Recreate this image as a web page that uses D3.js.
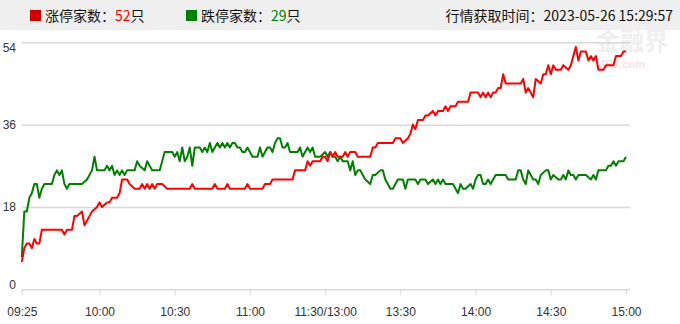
<!DOCTYPE html>
<html>
<head>
<meta charset="utf-8">
<script src="https://cdn.jsdelivr.net/npm/d3@7/dist/d3.min.js"></script>
<style>
  body { margin: 0; background: #fff; }
  svg { display: block; }
  .axis text { font: 12px "Liberation Sans", Arial, sans-serif; fill: #333; }
  .axis .domain { stroke: #d9d9d9; }
  .axis line { stroke: #d9d9d9; }
  .head { font: 14px "Noto Sans CJK SC", sans-serif; fill: #111; }
</style>
</head>
<body>
<div id="chart"></div>
<script>
// 涨停 (limit-up) count
var upTimes = ["09:25","09:30","09:31","09:32","09:33","09:34","09:35","09:36","09:37","09:45","09:46","09:47","09:49","09:50","09:51","09:53","09:54","09:55","09:56","09:57","09:59",
  "10:00","10:01","10:03","10:04","10:05","10:07","10:08","10:09","10:11","10:12","10:14","10:16","10:17","10:18","10:19","10:20","10:21","10:22","10:23","10:25","10:27","10:36","10:37","10:38","10:45","10:46","10:47","10:50","10:51","10:52","10:58","10:59",
  "11:00","11:05","11:06","11:08","11:09","11:17","11:18","11:22","11:23","11:24","11:25","11:28","11:29","11:30",
  "13:01","13:02","13:03","13:04","13:05","13:07","13:08","13:09","13:10","13:12","13:13","13:18","13:19","13:20","13:21","13:27","13:28","13:30","13:31","13:33","13:34","13:35","13:36","13:37","13:39","13:40","13:41","13:43","13:44","13:45","13:47","13:48","13:49","13:50","13:52","13:53","13:57","13:58",
  "14:01","14:02","14:03","14:04","14:05","14:06","14:07","14:08","14:09","14:10","14:11","14:12","14:18","14:19","14:20","14:21","14:22","14:23","14:24","14:26","14:27","14:28","14:29","14:30","14:31","14:32","14:34","14:35","14:37","14:38","14:40","14:41","14:42","14:44","14:45","14:46","14:47","14:48","14:49","14:51","14:52","14:55","14:56","14:58","14:59","15:00"];
var upValues = [6,9,10,10,9,11,10,10,13,13,12,13,13,16,16,17,14,15,16,17,18,
  19,18,19,19,20,20,21,24,24,23,22,22,23,22,23,22,23,22,23,23,22,22,23,22,22,23,22,22,23,22,22,23,
  22,22,23,23,24,24,26,26,28,27,28,28,29,29,
  28,30,29,30,29,29,30,29,30,30,29,29,31,31,32,32,33,33,32,33,34,36,35,37,37,38,38,39,38,39,39,40,39,40,40,41,41,43,
  43,42,43,42,43,42,43,43,44,44,47,45,45,46,43,44,43,42,46,45,47,47,49,47,49,48,48,49,48,49,53,50,52,52,50,51,50,51,48,48,49,49,51,51,52,52];

// 跌停 (limit-down) count
var downTimes = ["09:25","09:30","09:31","09:32","09:33","09:34","09:35","09:36","09:37","09:38","09:41","09:42","09:43","09:44","09:45","09:46","09:47","09:48","09:53","09:55","09:57","09:58","09:59",
  "10:02","10:03","10:04","10:05","10:06","10:07","10:08","10:09","10:10","10:11","10:14","10:15","10:16","10:18","10:19","10:20","10:21","10:24","10:25","10:26","10:28","10:29","10:30","10:31","10:32","10:33","10:34","10:35","10:36","10:37","10:38","10:40","10:41","10:42","10:43","10:44","10:45","10:46","10:47","10:48","10:49","10:50","10:51","10:52","10:53","10:54","10:55","10:56","10:57","10:58","10:59",
  "11:00","11:01","11:03","11:04","11:05","11:06","11:07","11:08","11:09","11:10","11:11","11:12","11:13","11:14","11:15","11:16","11:19","11:20","11:21","11:22","11:23","11:24","11:25","11:26","11:28","11:30",
  "13:01","13:02","13:03","13:04","13:05","13:06","13:07","13:09","13:10","13:11","13:12","13:13","13:14","13:15","13:16","13:18","13:19","13:20","13:22","13:23","13:24","13:25","13:26","13:27","13:29","13:31","13:32","13:33","13:35","13:36","13:37","13:38","13:40","13:41","13:43","13:44","13:45","13:46","13:47","13:48","13:51","13:52","13:53","13:54","13:55","13:56","13:58","13:59",
  "14:00","14:01","14:02","14:03","14:04","14:05","14:06","14:07","14:08","14:12","14:13","14:16","14:17","14:18","14:19","14:20","14:21","14:23","14:24","14:25","14:26","14:28","14:29","14:30","14:31","14:33","14:34","14:35","14:36","14:37","14:38","14:39","14:40","14:41","14:44","14:46","14:47","14:48","14:49","14:51","14:52","14:53","14:54","14:55","14:56","14:57","14:59","15:00"];
var downValues = [7,17,17,20,21,23,23,20,22,23,23,25,26,25,26,23,22,23,23,24,26,29,26,
  26,27,26,27,25,26,25,26,25,26,26,28,27,26,28,27,26,26,28,30,30,30,29,30,28,31,28,29,31,27,31,31,30,31,30,32,30,31,32,31,32,31,32,31,32,32,31,31,30,30,31,
  30,29,29,31,29,30,31,31,30,32,33,33,31,31,32,30,30,31,29,30,31,30,31,29,29,30,
  29,30,29,29,28,29,28,28,26,28,25,26,26,25,24,23,25,25,26,26,24,23,22,22,24,24,22,24,24,24,23,24,24,23,24,23,24,23,24,23,23,22,21,23,22,22,23,22,
  24,25,25,23,23,24,23,24,25,25,24,24,26,26,24,23,26,24,24,23,25,26,26,24,25,24,24,25,24,26,25,25,24,25,25,24,25,24,26,26,26,27,27,28,27,28,28,29];

var tickTimes = ["09:25","10:00","10:30","11:00","11:30","13:30","14:00","14:30","15:00"];
var tickLabels = ["09:25","10:00","10:30","11:00","11:30/13:00","13:30","14:00","14:30","15:00"];
var yTicks = [0, 18, 36, 54];

var upTotal = 52, downTotal = 29;
var fetchTime = "2023-05-26 15:29:57";

var W = 680, H = 324;

// trading minute index: 09:25 -> 0, 09:30 -> 1, 11:30 == 13:00 -> 121, 15:00 -> 241
function minuteIndex(t) {
  var p = t.split(":"), m = +p[0] * 60 + +p[1];
  if (m < 570) return 0;
  if (m <= 690) return 1 + m - 570;
  return 121 + m - 780;
}

var x = d3.scaleLinear().domain([0, 241]).range([21.8, 626]);
var y = d3.scaleLinear().domain([0, 54]).range([289.3, 42.3]);

var svg = d3.select("#chart").append("svg")
  .attr("width", W).attr("height", H);

// header band
svg.append("rect").attr("x", 0).attr("y", 0).attr("width", W).attr("height", 30).attr("fill", "#efefef");

var legend = [
  {name: "涨停家数：", value: upTotal, box: "#d00000", num: "#ff0000", x: 30},
  {name: "跌停家数：", value: downTotal, box: "#008000", num: "#008000", x: 186}
];
legend.forEach(function(d) {
  svg.append("rect").attr("x", d.x).attr("y", 10).attr("width", 11).attr("height", 11).attr("fill", d.box);
  var t = svg.append("text").attr("class", "head").attr("x", d.x + 15).attr("y", 21);
  t.append("tspan").text(d.name);
  t.append("tspan").attr("fill", d.num).text(d.value);
  t.append("tspan").text("只");
});
svg.append("text").attr("class", "head").attr("x", 673).attr("y", 21)
  .attr("text-anchor", "end").text("行情获取时间：" + fetchTime);

// watermark
var wm = svg.append("g").attr("opacity", 0.55);
wm.append("text").attr("x", 632).attr("y", 50).attr("text-anchor", "middle")
  .style("font", "bold 24px 'Noto Sans CJK SC', sans-serif").attr("fill", "#e2e2e2").text("金融界");
wm.append("text").attr("x", 622).attr("y", 68).attr("text-anchor", "middle")
  .style("font", "bold 11px 'Liberation Sans', sans-serif").attr("fill", "#f2c8c8").text("JRJ.com");

// y grid + labels
var gy = svg.append("g").attr("class", "axis")
  .attr("transform", "translate(22,0)")
  .call(d3.axisLeft(y).tickValues(yTicks).tickSize(-608).tickPadding(6));
gy.select(".domain").remove();
gy.selectAll(".tick line").attr("stroke", "#dcdcdc").attr("stroke-width", 1.5);
gy.selectAll(".tick text")
  .attr("dy", function(d) { return d === 54 ? "0.75em" : d === 0 ? "-0.05em" : "0.32em"; });

// x axis
var gx = svg.append("g").attr("class", "axis")
  .attr("transform", "translate(0,289.3)")
  .call(d3.axisBottom(x)
    .tickValues(tickTimes.map(minuteIndex))
    .tickFormat(function(d, i) { return tickLabels[i]; })
    .tickSize(6).tickPadding(12).tickSizeOuter(0));
gx.select(".domain").remove();

var line = d3.line()
  .x(function(d) { return x(minuteIndex(d.t)); })
  .y(function(d) { return y(d.v); });

var series = [
  {color: "#008000", values: downTimes.map(function(t, i) { return {t: t, v: downValues[i]}; })},
  {color: "#ff0000", values: upTimes.map(function(t, i) { return {t: t, v: upValues[i]}; })}
];

svg.selectAll(".line").data(series).enter().append("path")
  .attr("class", "line")
  .attr("fill", "none")
  .attr("stroke", function(d) { return d.color; })
  .attr("stroke-width", 2)
  .attr("stroke-linejoin", "round")
  .attr("d", function(d) { return line(d.values); });
</script>
</body>
</html>
